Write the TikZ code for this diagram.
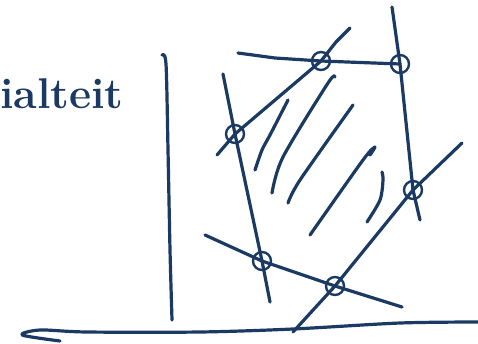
\documentclass[tikz,border=0pt]{standalone}
\usepackage{xcolor}
\definecolor{ink}{HTML}{1B3A63}
\tikzset{stroke/.style={line width=3.2pt,line cap=round,line join=round,ink},
  ring/.style={line width=2.4pt,ink}}
\begin{document}
\begin{tikzpicture}[x=1pt,y=-1pt]
  \useasboundingbox (0,0) rectangle (478,343);
  \coordinate (A) at (321,61);
  \coordinate (B) at (400,64);
  \coordinate (C) at (235,134);
  \coordinate (D) at (413,190);
  \coordinate (E) at (262,261);
  \coordinate (F) at (335,286);
  \node[anchor=base west,inner sep=0pt,text=ink,font=\fontsize{43}{43}\selectfont\bfseries] (label) at (0,108) {ialteit};
  \draw[stroke] plot[smooth] coordinates {(162,55) (166,64) (168,150) (170,250) (172,320)};
  \draw[stroke] plot[smooth] coordinates {(60,341) (22,335) (40,330) (87,332) (200,332) (293,329) (400,323) (478,322)};
  \draw[stroke] (238,53) -- (275,58) -- (A) -- (B);
  \draw[stroke] (217,155) -- (C) -- (A) -- (336,42) -- (350,28);
  \draw[stroke] (223,74) -- (C) -- (E) -- (270,302);
  \draw[stroke] (392,7) -- (B) -- (D) -- (420,220);
  \draw[stroke] (462,143) -- (D) -- (F) -- (293,332);
  \draw[stroke] (205,235) -- (E) -- (F) -- (402,307);
  \foreach \p in {A,B,C,D,E,F}
    \draw[ring] (\p) circle (9);
  \draw[stroke] plot[smooth] coordinates {(255,170) (262,150) (270,135) (288,100)};
  \draw[stroke] plot[smooth] coordinates {(272,193) (283,157) (328,83) (335,77)};
  \draw[stroke] plot[smooth] coordinates {(288,203) (300,180) (353,105)};
  \draw[stroke] plot[smooth] coordinates {(310,235) (363,160) (375,147) (370,155)};
  \draw[stroke] plot[smooth] coordinates {(367,222) (380,200) (383,180) (382,172)};
\end{tikzpicture}
\end{document}
